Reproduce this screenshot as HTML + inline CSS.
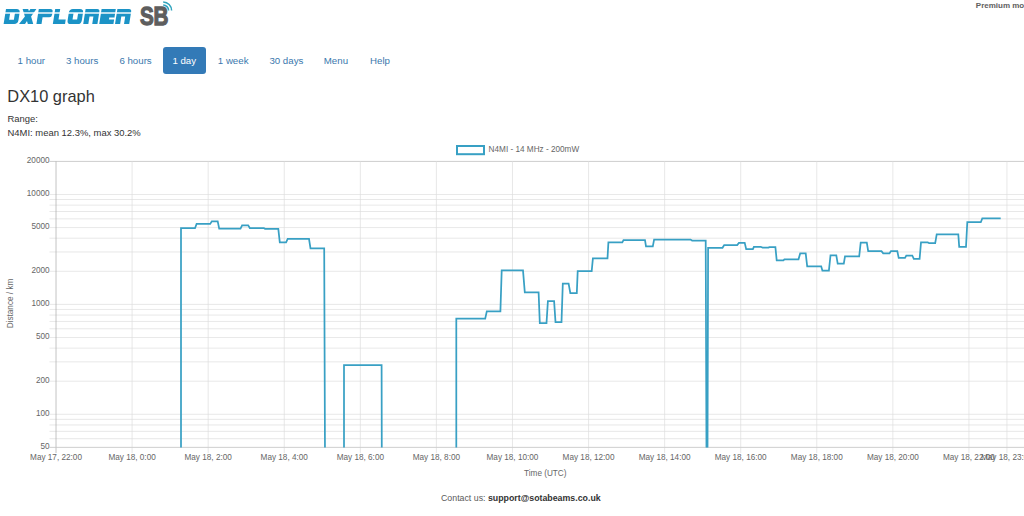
<!DOCTYPE html>
<html><head><meta charset="utf-8"><title>DX10 graph</title>
<style>
html,body{margin:0;padding:0;background:#fff;}
body{width:1024px;height:516px;overflow:hidden;position:relative;font-family:"Liberation Sans",sans-serif;color:#333;}
.abs{position:absolute;white-space:nowrap;}
.logo{position:absolute;left:0;top:0;}
.chart{position:absolute;left:0;top:0;}
.nav{font-size:9.7px;color:#3b78ad;line-height:1;}
.pill{position:absolute;left:163px;top:47.3px;width:43px;height:26.7px;background:#337ab7;border-radius:3px;}
.prem{font-weight:bold;font-size:8px;color:#606060;line-height:1;}
h3{margin:0;position:absolute;font-weight:normal;font-size:16.4px;line-height:1;left:7.3px;top:88.0px;color:#333;}
.txt{font-size:9.45px;line-height:1;}
</style></head><body>
<svg class="logo" width="180" height="30" viewBox="0 0 180 30">
<g fill="#1b93c6" fill-rule="evenodd"><path transform="translate(6.0 9) skewX(-9)" d="M0 0H10.5Q14.2 0 14.2 3.6V11.2Q14.2 15 10.5 15H0Z M4.8 4V10.8H9.6V4Z"/>
<path transform="translate(22.0 9) skewX(-9)" d="M0.6 0H6.2L7.3 2.2L8.4 0H14.4L10.3 7.6L13.6 15H8.2L6.9 12L5.4 15H-0.6L4.1 7.6Z"/>
<path transform="translate(38.8 9) skewX(-9)" d="M0 0H11.6Q14.2 0 14.2 2.8V5.8Q14.2 8.3 11.8 8.3H5.1V15H0Z"/>
<path transform="translate(54.6 9) skewX(-9)" d="M0.6 0H5.6V10.6H12.8V15H0.6Z"/>
<path transform="translate(69.4 9) skewX(-9)" d="M3.6 0H10.6Q14.2 0 14.2 3.6V11.4Q14.2 15 10.6 15H3.6Q0 15 0 11.4V3.6Q0 0 3.6 0Z M4.8 4V10.6H9.4V4Z"/>
<path transform="translate(85.6 9) skewX(-9)" d="M0 0H11.6Q14.2 0 14.2 2.8V15H9V7.6H5.1V15H0Z"/>
<path transform="translate(101.6 9) skewX(-9)" d="M0 0H14.2V8.4H9V10.6H14.2V15H0Z"/>
<path transform="translate(117.4 9) skewX(-9)" d="M0 0H11.6Q14.2 0 14.2 2.8V15H9V7.6H5.1V15H0Z"/>
</g>
<rect x="0" y="12.3" width="135" height="1.4" fill="#fff"/>
<text transform="translate(140 24.6) scale(0.78 1)" font-family="Liberation Sans, sans-serif" font-weight="bold" font-size="26.5" fill="#5e5e5e" stroke="#5e5e5e" stroke-width="1.3" letter-spacing="-0.5">SB</text>
<g fill="none" stroke="#2fa3bd" stroke-width="1.5">
<path d="M163.2 4.9 A5.6 5.6 0 0 1 168.6 10.5"/>
<path d="M163.2 1.9 A8.6 8.6 0 0 1 171.6 10.5"/>
</g>
</svg>
<div class="abs prem" style="left:975.8px;top:1.9px">Premium mode</div>
<div class="pill"></div>
<div class="abs nav" style="left:17.6px;top:55.8px">1 hour</div>
<div class="abs nav" style="left:66px;top:55.8px">3 hours</div>
<div class="abs nav" style="left:119.4px;top:55.8px">6 hours</div>
<div class="abs nav" style="left:172.4px;top:55.8px;color:#fff">1 day</div>
<div class="abs nav" style="left:217.8px;top:55.8px">1 week</div>
<div class="abs nav" style="left:269.4px;top:55.8px">30 days</div>
<div class="abs nav" style="left:323.8px;top:55.8px">Menu</div>
<div class="abs nav" style="left:370px;top:55.8px">Help</div>
<h3>DX10 graph</h3>
<div class="abs txt" style="left:7.5px;top:113.8px">Range:</div>
<div class="abs txt" style="left:7.5px;top:128.1px">N4MI: mean 12.3%, max 30.2%</div>
<svg class="chart" width="1024" height="516" viewBox="0 0 1024 516">
<defs><clipPath id="ca"><rect x="56" y="150" width="968" height="297.6"/></clipPath></defs>
<g shape-rendering="auto"><line x1="49.5" y1="447.40" x2="1024" y2="447.40" stroke="#dedede" stroke-width="0.7"/><line x1="49.5" y1="438.70" x2="1024" y2="438.70" stroke="#dedede" stroke-width="0.7"/><line x1="49.5" y1="431.34" x2="1024" y2="431.34" stroke="#dedede" stroke-width="0.7"/><line x1="49.5" y1="424.96" x2="1024" y2="424.96" stroke="#dedede" stroke-width="0.7"/><line x1="49.5" y1="419.34" x2="1024" y2="419.34" stroke="#dedede" stroke-width="0.7"/><line x1="49.5" y1="414.31" x2="1024" y2="414.31" stroke="#dedede" stroke-width="0.7"/><line x1="49.5" y1="381.23" x2="1024" y2="381.23" stroke="#dedede" stroke-width="0.7"/><line x1="49.5" y1="361.87" x2="1024" y2="361.87" stroke="#dedede" stroke-width="0.7"/><line x1="49.5" y1="348.14" x2="1024" y2="348.14" stroke="#dedede" stroke-width="0.7"/><line x1="49.5" y1="337.49" x2="1024" y2="337.49" stroke="#dedede" stroke-width="0.7"/><line x1="49.5" y1="328.78" x2="1024" y2="328.78" stroke="#dedede" stroke-width="0.7"/><line x1="49.5" y1="321.43" x2="1024" y2="321.43" stroke="#dedede" stroke-width="0.7"/><line x1="49.5" y1="315.05" x2="1024" y2="315.05" stroke="#dedede" stroke-width="0.7"/><line x1="49.5" y1="309.43" x2="1024" y2="309.43" stroke="#dedede" stroke-width="0.7"/><line x1="49.5" y1="304.40" x2="1024" y2="304.40" stroke="#dedede" stroke-width="0.7"/><line x1="49.5" y1="271.31" x2="1024" y2="271.31" stroke="#dedede" stroke-width="0.7"/><line x1="49.5" y1="251.96" x2="1024" y2="251.96" stroke="#dedede" stroke-width="0.7"/><line x1="49.5" y1="238.23" x2="1024" y2="238.23" stroke="#dedede" stroke-width="0.7"/><line x1="49.5" y1="227.57" x2="1024" y2="227.57" stroke="#dedede" stroke-width="0.7"/><line x1="49.5" y1="218.87" x2="1024" y2="218.87" stroke="#dedede" stroke-width="0.7"/><line x1="49.5" y1="211.51" x2="1024" y2="211.51" stroke="#dedede" stroke-width="0.7"/><line x1="49.5" y1="205.14" x2="1024" y2="205.14" stroke="#dedede" stroke-width="0.7"/><line x1="49.5" y1="199.52" x2="1024" y2="199.52" stroke="#dedede" stroke-width="0.7"/><line x1="49.5" y1="194.49" x2="1024" y2="194.49" stroke="#dedede" stroke-width="0.7"/><line x1="49.5" y1="161.40" x2="1024" y2="161.40" stroke="#b8b8b8" stroke-width="0.7"/><line x1="56.03" y1="161.4" x2="56.03" y2="453" stroke="#aaaaaa" stroke-width="0.7"/><line x1="132.10" y1="161.4" x2="132.10" y2="453" stroke="#dedede" stroke-width="0.7"/><line x1="208.18" y1="161.4" x2="208.18" y2="453" stroke="#dedede" stroke-width="0.7"/><line x1="284.25" y1="161.4" x2="284.25" y2="453" stroke="#dedede" stroke-width="0.7"/><line x1="360.33" y1="161.4" x2="360.33" y2="453" stroke="#dedede" stroke-width="0.7"/><line x1="436.40" y1="161.4" x2="436.40" y2="453" stroke="#dedede" stroke-width="0.7"/><line x1="512.47" y1="161.4" x2="512.47" y2="453" stroke="#dedede" stroke-width="0.7"/><line x1="588.55" y1="161.4" x2="588.55" y2="453" stroke="#dedede" stroke-width="0.7"/><line x1="664.62" y1="161.4" x2="664.62" y2="453" stroke="#dedede" stroke-width="0.7"/><line x1="740.70" y1="161.4" x2="740.70" y2="453" stroke="#dedede" stroke-width="0.7"/><line x1="816.77" y1="161.4" x2="816.77" y2="453" stroke="#dedede" stroke-width="0.7"/><line x1="892.84" y1="161.4" x2="892.84" y2="453" stroke="#dedede" stroke-width="0.7"/><line x1="968.92" y1="161.4" x2="968.92" y2="453" stroke="#dedede" stroke-width="0.7"/><line x1="1006.95" y1="161.4" x2="1006.95" y2="453" stroke="#dedede" stroke-width="0.7"/><line x1="49.5" y1="447.4" x2="1024" y2="447.4" stroke="#c8c8c8" stroke-width="0.7"/></g>
<g font-family="Liberation Sans, sans-serif" font-size="8.2" fill="#666"><text x="49.6" y="162.90" text-anchor="end">20000</text><text x="49.6" y="195.99" text-anchor="end">10000</text><text x="49.6" y="229.07" text-anchor="end">5000</text><text x="49.6" y="272.81" text-anchor="end">2000</text><text x="49.6" y="305.90" text-anchor="end">1000</text><text x="49.6" y="338.99" text-anchor="end">500</text><text x="49.6" y="382.73" text-anchor="end">200</text><text x="49.6" y="415.81" text-anchor="end">100</text><text x="49.6" y="448.90" text-anchor="end">50</text><text x="56.03" y="459.8" text-anchor="middle">May 17, 22:00</text><text x="132.10" y="459.8" text-anchor="middle">May 18, 0:00</text><text x="208.18" y="459.8" text-anchor="middle">May 18, 2:00</text><text x="284.25" y="459.8" text-anchor="middle">May 18, 4:00</text><text x="360.33" y="459.8" text-anchor="middle">May 18, 6:00</text><text x="436.40" y="459.8" text-anchor="middle">May 18, 8:00</text><text x="512.47" y="459.8" text-anchor="middle">May 18, 10:00</text><text x="588.55" y="459.8" text-anchor="middle">May 18, 12:00</text><text x="664.62" y="459.8" text-anchor="middle">May 18, 14:00</text><text x="740.70" y="459.8" text-anchor="middle">May 18, 16:00</text><text x="816.77" y="459.8" text-anchor="middle">May 18, 18:00</text><text x="892.84" y="459.8" text-anchor="middle">May 18, 20:00</text><text x="968.92" y="459.8" text-anchor="middle">May 18, 22:00</text><text x="1006.95" y="459.8" text-anchor="middle">May 18, 23:00</text>
<text x="545.3" y="476.3" text-anchor="middle">Time (UTC)</text>
<text transform="translate(13.2 303.5) rotate(-90)" text-anchor="middle">Distance / km</text>
<text x="488.6" y="152.2">N4MI - 14 MHz - 200mW</text>
</g>
<rect x="457" y="146" width="27" height="8.2" fill="none" stroke="#38a0c4" stroke-width="2"/>
<g clip-path="url(#ca)" fill="none" stroke="#38a0c4" stroke-width="1.75" stroke-linejoin="miter">
<path d="M181 460 L181 228.2 L195 228.2 L196.6 223.9 L210.2 223.9 L211.8 221.4 L217.7 221.4 L219.2 228.6 L240.5 228.6 L242.1 225.4 L248.2 225.4 L249.8 228 L263.8 228 L265 228.8 L278.3 228.8 L279.8 242.3 L286.1 242.3 L287.7 238.8 L309 238.8 L310.5 248.3 L324.2 248.3 L325 460"/><path d="M344 460 L344 365.1 L381.6 365.1 L381.8 460"/><path d="M456.3 460 L456.3 318.6 L485.2 318.6 L486.8 311.3 L500.4 311.3 L501.7 270.4 L523 270.4 L524.8 292.3 L538.6 292.3 L539.8 323.1 L546.5 323.1 L547.9 301.1 L554.1 301.1 L555.5 322.1 L561.5 322.1 L562.8 283.7 L568.6 283.7 L570.3 293 L576.8 293 L577.7 271.1 L591.7 271.1 L592.9 258.3 L607.5 258.3 L608.4 242.4 L622.3 242.4 L623.5 240.2 L645 240.2 L646 246.3 L652.8 246.3 L654.1 239.5 L690.5 239.5 L692.1 240.5 L705.7 240.5 L706.5 460"/><path d="M707.5 460 L708.1 247.8 L722.5 247.8 L724.2 245 L737.2 245 L738.9 242.9 L744.7 242.9 L746.2 249.2 L752.9 249.2 L753.9 246.8 L760.7 246.8 L762.6 247.6 L768.4 247.6 L769.4 247.1 L775.4 247.1 L776.7 260.4 L783.4 260.4 L784.4 259.3 L798.5 259.3 L800.2 253.4 L805.7 253.4 L807.2 266.3 L821.2 266.3 L822.4 270.7 L828.9 270.7 L830.5 255.4 L836.3 255.4 L837.7 263.7 L843.8 263.7 L845 256.3 L859.2 256.3 L860.7 242.6 L866.8 242.6 L868.2 251.1 L881.5 251.1 L883.2 253.3 L889.5 253.3 L891 251 L897.3 251 L898.7 257.9 L905 257.9 L906.3 255.5 L912.3 255.5 L913.8 258.9 L919.6 258.9 L921 242.4 L927.8 242.4 L929.2 243.2 L935.2 243.2 L936.7 234.3 L958.3 234.3 L959.2 246.8 L966 246.8 L967.3 222.2 L980.8 222.2 L982.3 218.4 L1000.7 218.4"/>
</g>
</svg>
<div class="abs txt" style="left:441px;top:493.6px;color:#5a5a5a;font-size:8.8px">Contact us: <b style="color:#333">support@sotabeams.co.uk</b></div>
</body></html>
